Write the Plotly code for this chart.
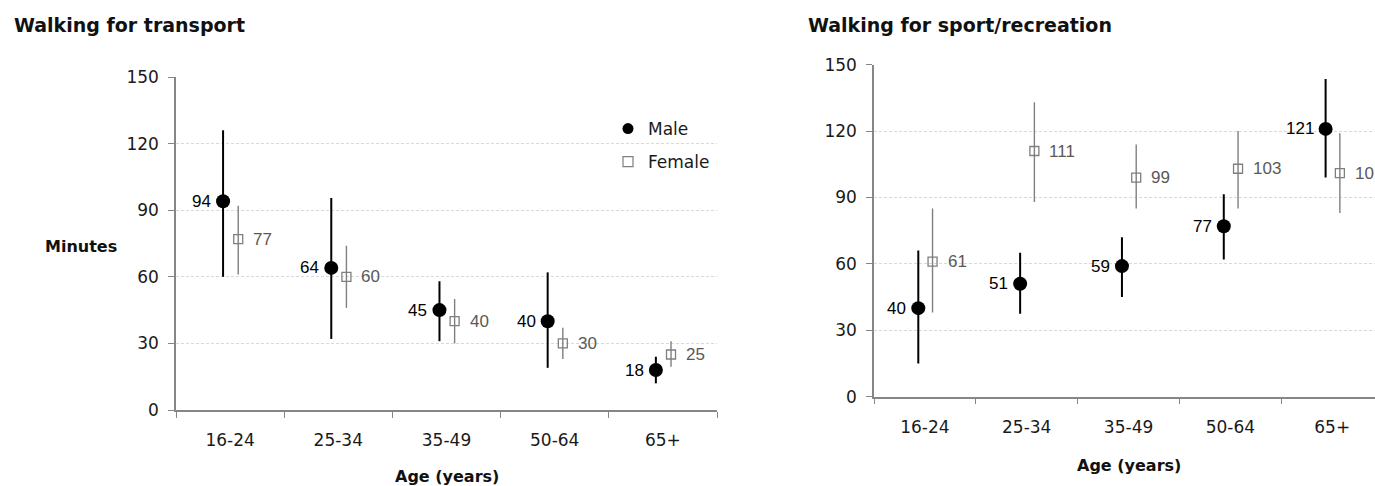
import plotly.graph_objects as go

# ---------------- data ----------------
categories = ["16-24", "25-34", "35-49", "50-64", "65+"]
y_ticks = [0, 30, 60, 90, 120, 150]

transport_male = [94, 64, 45, 40, 18]
transport_male_lo = [60, 32, 31, 19, 12]
transport_male_hi = [126, 95.5, 58, 62, 24]
transport_female = [77, 60, 40, 30, 25]
transport_female_lo = [61, 46, 30, 23, 19.5]
transport_female_hi = [92, 74, 50, 37, 31]

sport_male = [40, 51, 59, 77, 121]
sport_male_lo = [15, 37.5, 45, 62, 99]
sport_male_hi = [66, 65, 72, 91.5, 143.5]
sport_female = [61, 111, 99, 103, 101]
sport_female_lo = [38, 88, 85, 85, 83]
sport_female_hi = [85, 133, 114, 120, 119]

# ---------------- style ----------------
W, H = 1375, 486
FONT = "DejaVu Sans, Verdana, sans-serif"
NARROW = "Liberation Sans Narrow, Arial Narrow, Liberation Sans, Arial, sans-serif"
AXIS_COL = "#868686"
GRID_COL = "#d9d9d9"
MALE_COL = "#000000"
FEMALE_COL = "#7f7f7f"
FEMALE_TXT = "#595959"
MALE_OFF, FEMALE_OFF = -0.065, 0.075

idx = list(range(len(categories)))
bounds = [i - 0.5 for i in range(len(categories) + 1)]

fig = go.Figure()
annotations = []


def add_panel(xa, ya, male, mlo, mhi, female, flo, fhi):
    xs_m = [i + MALE_OFF for i in idx]
    xs_f = [i + FEMALE_OFF for i in idx]
    fig.add_trace(go.Scatter(
        x=xs_m, y=male, mode="markers", xaxis=xa, yaxis=ya, showlegend=False,
        marker=dict(symbol="circle", size=14, color=MALE_COL),
        error_y=dict(type="data", symmetric=False,
                     array=[h - v for h, v in zip(mhi, male)],
                     arrayminus=[v - l for v, l in zip(male, mlo)],
                     color=MALE_COL, thickness=2, width=0),
        hoverinfo="skip"))
    fig.add_trace(go.Scatter(
        x=xs_f, y=female, mode="markers", xaxis=xa, yaxis=ya, showlegend=False,
        marker=dict(symbol="square-open", size=9, color=FEMALE_COL, line=dict(width=1.3)),
        error_y=dict(type="data", symmetric=False,
                     array=[h - v for h, v in zip(fhi, female)],
                     arrayminus=[v - l for v, l in zip(female, flo)],
                     color=FEMALE_COL, thickness=1.4, width=0),
        hoverinfo="skip"))
    for x, v in zip(xs_m, male):
        annotations.append(dict(x=x, y=v, xref=xa, yref=ya, text=str(v), showarrow=False,
                                xanchor="right", yanchor="middle", xshift=-10,
                                font=dict(family=NARROW, size=17, color=MALE_COL)))
    for x, v in zip(xs_f, female):
        annotations.append(dict(x=x, y=v, xref=xa, yref=ya, text=str(v), showarrow=False,
                                xanchor="left", yanchor="middle", xshift=13,
                                font=dict(family=NARROW, size=17, color=FEMALE_TXT)))


add_panel("x", "y", transport_male, transport_male_lo, transport_male_hi,
          transport_female, transport_female_lo, transport_female_hi)
add_panel("x2", "y2", sport_male, sport_male_lo, sport_male_hi,
          sport_female, sport_female_lo, sport_female_hi)

# legend-only traces
fig.add_trace(go.Scatter(x=[None], y=[None], mode="markers", name="Male", legendgroup="m",
                         marker=dict(symbol="circle", size=11, color=MALE_COL)))
fig.add_trace(go.Scatter(x=[None], y=[None], mode="markers", name="Female", legendgroup="f",
                         marker=dict(symbol="square-open", size=10, color=FEMALE_COL,
                                     line=dict(width=1.2))))

xaxis_common = dict(
    tickmode="array", tickvals=idx, ticktext=categories, ticks="",
    ticklabelstandoff=14, automargin=False,
    showline=True, linecolor=AXIS_COL, linewidth=1.5, showgrid=False, zeroline=False,
    tickfont=dict(family=FONT, size=17, color="#1a1a1a"),
    minor=dict(tickmode="array", tickvals=bounds, ticks="outside", ticklen=6,
               tickcolor=AXIS_COL, tickwidth=1.3, showgrid=False),
    fixedrange=True,
)
yaxis_common = dict(
    range=[0, 150], tickmode="array", tickvals=y_ticks, ticks="outside", ticklen=6,
    tickcolor=AXIS_COL, tickwidth=1.3, ticklabelstandoff=6, automargin=False,
    showline=True, linecolor=AXIS_COL, linewidth=1.5,
    showgrid=True, gridcolor=GRID_COL, gridwidth=1, griddash="3px,2px", zeroline=False,
    tickfont=dict(family=FONT, size=17, color="#1a1a1a"), fixedrange=True,
)

fig.update_layout(
    width=W, height=H, margin=dict(l=0, r=0, t=0, b=0, pad=0, autoexpand=False),
    paper_bgcolor="white", plot_bgcolor="white",
    xaxis=dict(domain=[176 / W, 717 / W], range=[-0.5, 4.5], anchor="y", **xaxis_common),
    yaxis=dict(domain=[(H - 410) / H, (H - 77) / H], anchor="x", **yaxis_common),
    xaxis2=dict(domain=[874 / W, 1.0], range=[-0.5, 4.42], anchor="y2", **xaxis_common),
    yaxis2=dict(domain=[(H - 396.7) / H, (H - 64.7) / H], anchor="x2", **yaxis_common),
    showlegend=True,
    legend=dict(x=608 / W, y=(H - 111) / H, xanchor="left", yanchor="top",
                bgcolor="rgba(0,0,0,0)", traceorder="grouped", tracegroupgap=8,
                font=dict(family=FONT, size=17, color="#1a1a1a"), itemwidth=30),
)

title_font = dict(family=FONT, size=19, color="#111111")
annotations += [
    dict(text="<b>Walking for transport</b>", x=12 / W, y=(H - 25) / H, xref="paper", yref="paper",
         xanchor="left", yanchor="middle", showarrow=False, font=title_font),
    dict(text="<b>Walking for sport/recreation</b>", x=806 / W, y=(H - 25) / H, xref="paper",
         yref="paper", xanchor="left", yanchor="middle", showarrow=False, font=title_font),
    dict(text="<b>Minutes</b>", x=81 / W, y=(H - 247) / H, xref="paper", yref="paper",
         xanchor="center", yanchor="middle", showarrow=False,
         font=dict(family=FONT, size=16, color="#111111")),
    dict(text="<b>Age (years)</b>", x=447 / W, y=(H - 476) / H, xref="paper", yref="paper",
         xanchor="center", yanchor="middle", showarrow=False,
         font=dict(family=FONT, size=16, color="#111111")),
    dict(text="<b>Age (years)</b>", x=1129 / W, y=(H - 465) / H, xref="paper", yref="paper",
         xanchor="center", yanchor="middle", showarrow=False,
         font=dict(family=FONT, size=16, color="#111111")),
]
fig.update_layout(annotations=annotations)

fig.write_html("out.html", config={"displayModeBar": False},
               post_script="document.body.style.margin='0';")
